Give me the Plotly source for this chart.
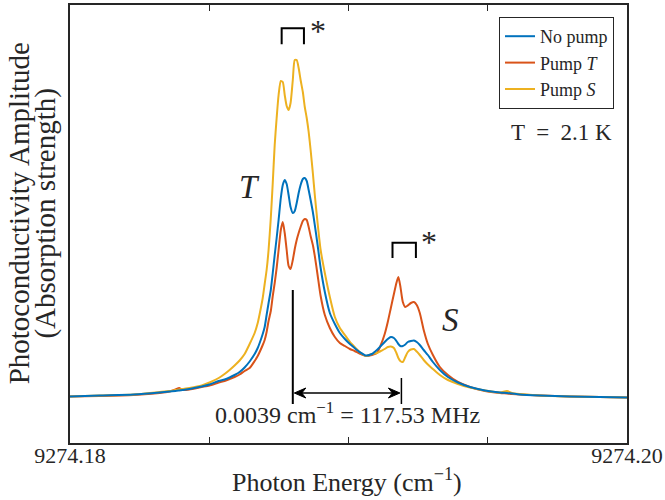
import plotly.graph_objects as go

# Photon energy grid (cm^-1)
energy = [9274.18000, 9274.18106, 9274.18228, 9274.18322, 9274.18358, 9274.18379, 9274.18392, 9274.18404, 9274.18429, 9274.18473,
          9274.18501, 9274.18534, 9274.18555, 9274.18573, 9274.18591, 9274.18609, 9274.18627, 9274.18645, 9274.18663, 9274.18674,
          9274.18681, 9274.18692, 9274.18699, 9274.18706, 9274.18713, 9274.18721, 9274.18728, 9274.18735, 9274.18742, 9274.18749,
          9274.18757, 9274.18764, 9274.18771, 9274.18778, 9274.18785, 9274.18792, 9274.18800, 9274.18807, 9274.18814, 9274.18821,
          9274.18828, 9274.18836, 9274.18843, 9274.18850, 9274.18857, 9274.18864, 9274.18872, 9274.18879, 9274.18889, 9274.18900,
          9274.18915, 9274.18933, 9274.18951, 9274.18969, 9274.18987, 9274.19005, 9274.19022, 9274.19040, 9274.19062, 9274.19084,
          9274.19102, 9274.19116, 9274.19130, 9274.19141, 9274.19152, 9274.19163, 9274.19172, 9274.19179, 9274.19186, 9274.19195,
          9274.19204, 9274.19213, 9274.19224, 9274.19235, 9274.19245, 9274.19256, 9274.19270, 9274.19285, 9274.19303, 9274.19328,
          9274.19357, 9274.19393, 9274.19436, 9274.19490, 9274.19544, 9274.19569, 9274.19587, 9274.19615, 9274.19687, 9274.19795,
          9274.19903, 9274.20000]

# Photoconductivity amplitude (arb. units)
no_pump = [46.5, 47.5, 48.5, 50.5, 51.5, 52, 52.5, 53, 54, 56.5,
           58.5, 62, 63.5, 65.5, 68, 71, 75.5, 81.5, 89, 95,
           100, 109, 116, 128, 140, 153, 170, 188, 205, 223,
           245, 258, 263, 259, 248, 236, 230, 232, 240, 250,
           258, 264, 265, 262, 253, 243, 231, 218, 198, 175,
           151, 130, 119, 110, 104, 99, 95, 91, 87.5, 89,
           93, 97, 101, 104, 106, 105, 102, 99, 97, 97,
           98.5, 101, 102, 102.5, 101, 98, 93, 88, 81, 73,
           66, 60.5, 56, 52.5, 50.5, 50, 49.5, 48.5, 47.5, 46.5,
           46, 45.5]

pump_T = [46.5, 47, 48, 50, 51.5, 53.5, 55, 53, 53.5, 56,
          57.5, 60.5, 62, 64, 66, 68.5, 72, 75, 82, 87,
          91, 98, 103, 111, 122, 132, 147, 160, 175, 193,
          213, 221, 210, 193, 177, 174, 183, 194, 203, 210,
          216, 222, 224, 223, 216, 207, 198, 187, 168, 147,
          128, 115, 106, 100, 97, 94, 92, 89.5, 87, 88,
          90, 98, 109, 121, 135, 149, 160, 166, 157, 141,
          136, 137.5, 140, 141, 138, 130, 113, 99, 88, 76,
          68, 61, 56, 52, 50, 49.5, 49, 48.5, 47.5, 46.5,
          46, 45.5]

pump_S = [46.5, 47.5, 48.5, 51, 52, 53, 53.5, 54, 55, 57.5,
          60.5, 65, 69, 73, 77.5, 82.5, 89, 99, 110, 120,
          129, 145, 159, 173, 193, 225, 260, 298, 325, 348,
          362, 361, 348, 337, 333, 340, 363, 383, 383, 375,
          363, 351, 336, 325, 311, 293, 270, 248, 220, 193,
          170, 146, 126, 115, 108, 101, 96, 91, 87, 89,
          90, 92, 94, 96, 96.5, 95, 90, 85, 82, 81,
          86, 91, 93.5, 94, 91.5, 88, 83, 78.5, 74, 68,
          63, 59, 55.5, 52.5, 50.5, 52, 50, 49, 47.5, 46.5,
          46, 45.5]

series_names = ["No pump", "Pump <i>T</i>", "Pump <i>S</i>"]
series_colors = ["#0072BD", "#D95319", "#EDB120"]
x_tick_vals = [9274.18, 9274.20]
x_tick_text = ["9274.18", "9274.20"]
x_minor_vals = [9274.185, 9274.19, 9274.195]

# Splitting marker positions (cm^-1)
line_T = 9274.1880
line_S = 9274.1919

FONT = "Liberation Serif"
AX = "#262626"

fig = go.Figure()
data = [no_pump, pump_T, pump_S]
order = [1, 2, 0]  # draw order: red, yellow, blue on top
for i in order:
    fig.add_trace(go.Scatter(
        x=energy, y=data[i], mode="lines", name=series_names[i],
        line=dict(color=series_colors[i], width=2, shape="spline", smoothing=0.6),
        legendrank=i + 1,
    ))

fig.update_layout(
    width=665, height=500,
    margin=dict(l=70, r=38, t=5, b=57),
    plot_bgcolor="white", paper_bgcolor="white",
    font=dict(family=FONT, size=22, color=AX),
    showlegend=True,
    legend=dict(x=0.9767, y=0.9726, xanchor="right", yanchor="top",
                bordercolor=AX, borderwidth=1, bgcolor="white",
                font=dict(family=FONT, size=18, color=AX),
                tracegroupgap=0, itemwidth=30, entrywidth=80, entrywidthmode="pixels"),
)
fig.update_xaxes(
    range=[9274.18, 9274.20], tickvals=x_tick_vals, ticktext=x_tick_text,
    ticks="inside", ticklen=6, tickwidth=1, tickcolor=AX,
    minor=dict(tickvals=x_minor_vals, ticks="inside", ticklen=6, tickwidth=1, tickcolor=AX),
    showline=True, linecolor=AX, linewidth=1.5, mirror="ticks",
    showgrid=False, zeroline=False, automargin=False,
    tickfont=dict(family=FONT, size=22, color=AX), ticklabelstandoff=-8,
)
fig.update_yaxes(
    range=[0, 438], showticklabels=False, ticks="",
    showline=True, linecolor=AX, linewidth=1.5, mirror=True,
    showgrid=False, zeroline=False, automargin=False,
)

def xs(px):
    # pixel-length helper for arrowhead geometry (cm^-1 per pixel)
    return px * 0.02 / 557

shapes = [
    # vertical marker lines
    dict(type="line", xref="x", yref="y", x0=line_T, x1=line_T, y0=39, y1=153, line=dict(color="black", width=2)),
    dict(type="line", xref="x", yref="y", x0=line_S, x1=line_S, y0=39, y1=65, line=dict(color="black", width=1.5)),
    # arrow shaft
    dict(type="line", xref="x", yref="y", x0=line_T + xs(4), x1=line_S - xs(4), y0=50, y1=50, line=dict(color="black", width=1.5)),
    # arrow heads
    dict(type="path", xref="x", yref="y", fillcolor="black", line=dict(color="black", width=1),
         path=f"M {line_T + xs(1.5)},50 L {line_T + xs(13)},55 L {line_T + xs(9)},50 L {line_T + xs(13)},45 Z"),
    dict(type="path", xref="x", yref="y", fillcolor="black", line=dict(color="black", width=1),
         path=f"M {line_S - xs(1.5)},50 L {line_S - xs(13)},55 L {line_S - xs(9)},50 L {line_S - xs(13)},45 Z"),
    # brackets
    dict(type="path", xref="x", yref="y",
         path="M 9274.18760,398.7 L 9274.18760,414.7 L 9274.18840,414.7 L 9274.18840,398.7",
         line=dict(color="black", width=2)),
    dict(type="path", xref="x", yref="y",
         path="M 9274.19158,185 L 9274.19158,200.3 L 9274.19242,200.3 L 9274.19242,185",
         line=dict(color="black", width=2)),
]
fig.update_layout(shapes=shapes)

def ann(x, y, text, size, **kw):
    d = dict(x=x, y=y, xref="paper", yref="paper", text=text, showarrow=False,
             font=dict(family=FONT, size=size, color=AX), xanchor="center", yanchor="middle")
    d.update(kw)
    return d

anns = [
    ann(0.4982, 0.0685, "0.0039 cm<sup>−1</sup> = 117.53 MHz", 24),
    ann(0.8833, 0.7078, "T  =  2.1 K", 23),
    ann(0.3214, 0.5845, "<i>T</i>", 33),
    ann(0.684, 0.2808, "<i>S</i>", 33),
    ann(0.4458, 0.940, "*", 32),
    ann(0.645, 0.460, "*", 32),
    # axis titles
    ann(0.4982, -0.1285, "Photon Energy (cm<sup>−1</sup>)", 26, yanchor="bottom"),
    ann(-0.091, 0.525, "Photoconductivity Amplitude", 29, textangle=-90),
    ann(-0.044, 0.525, "(Absorption strength)", 29, textangle=-90),
]
fig.update_layout(annotations=anns)

fig.write_html("out.html", post_script="document.body.style.margin='0';",
               config={"displayModeBar": False})
